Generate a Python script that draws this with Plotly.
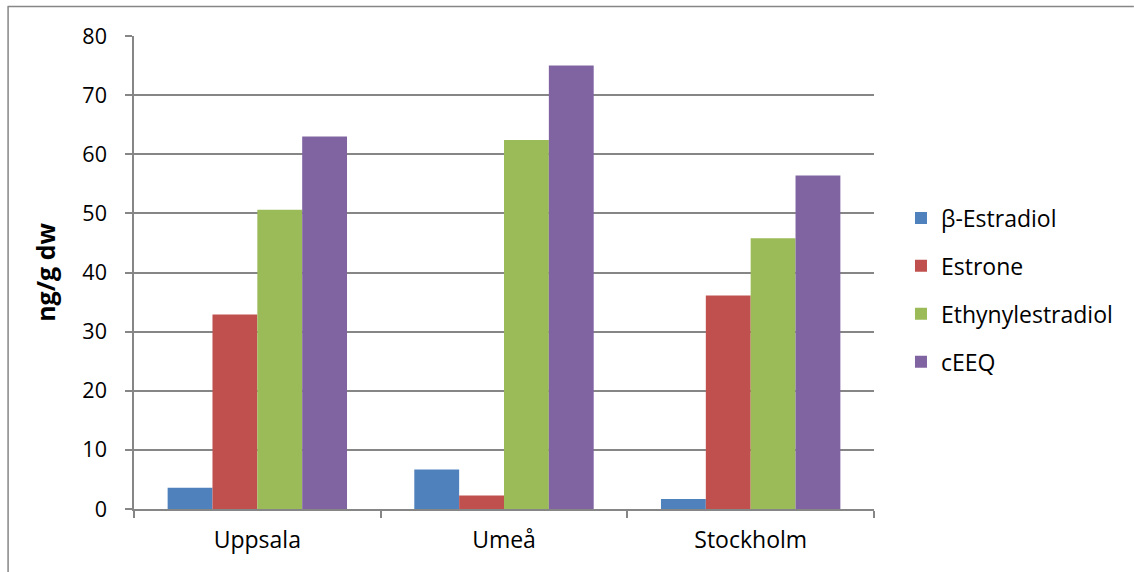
import plotly.graph_objects as go

categories = ["Uppsala", "Umeå", "Stockholm"]
series_names = ["β-Estradiol", "Estrone", "Ethynylestradiol", "cEEQ"]
beta_estradiol = [3.6, 6.7, 1.7]
estrone = [32.9, 2.3, 36.1]
ethynylestradiol = [50.6, 62.4, 45.8]
ceeq = [63.0, 75.0, 56.4]
colors = ["#4F81BD", "#C0504D", "#9BBB59", "#8064A2"]
y_ticks = [0, 10, 20, 30, 40, 50, 60, 70, 80]

FONT = "'Open Sans', sans-serif"
L, R, T, B = 133.5, 874, 36, 509
PW, PH = R - L, B - T

fig = go.Figure()
for i, (name, vals) in enumerate(zip(series_names, [beta_estradiol, estrone, ethynylestradiol, ceeq])):
    fig.add_trace(go.Bar(
        x=categories, y=vals, name=name,
        marker=dict(color=colors[i], line=dict(width=0)),
        legendgroup=f"g{i}",
    ))

fig.update_layout(
    width=1134, height=572,
    margin=dict(l=L, r=1134 - R, t=T, b=572 - B),
    paper_bgcolor="white", plot_bgcolor="white",
    barmode="group", bargap=0.2727, bargroupgap=0,
    font=dict(family=FONT, size=19, color="black"),
    showlegend=True,
    legend=dict(x=(901 - L) / PW, y=(B - 290) / PH, xanchor="left", yanchor="middle",
                traceorder="grouped", tracegroupgap=15,
                font=dict(family=FONT, size=23, color="black"),
                bgcolor="rgba(0,0,0,0)"),
    xaxis=dict(showline=True, linecolor="#868686", linewidth=1.5,
               ticks="outside", ticklen=7, tickcolor="#868686", tickwidth=1.5,
               tickson="boundaries", showgrid=False, ticklabelstandoff=10,
               tickfont=dict(family=FONT, size=23, color="black")),
    yaxis=dict(range=[0, 80], tickvals=y_ticks, showline=True, linecolor="#868686", linewidth=1.5,
               ticks="outside", ticklen=7, tickcolor="#868686", tickwidth=1.5,
               showgrid=True, gridcolor="#868686", gridwidth=1.5, zeroline=False,
               ticklabelstandoff=14,
               tickfont=dict(family=FONT, size=21.5, color="black"),
               title=dict(text="<b>ng/g dw</b>", font=dict(family=FONT, size=25, color="black"), standoff=20)),
    shapes=[
        dict(type="line", xref="paper", yref="paper",
             x0=(7 - L) / PW, x1=(1134 - L) / PW, y0=1 + (T - 6.5) / PH, y1=1 + (T - 6.5) / PH,
             line=dict(color="#868686", width=1.5)),
        dict(type="line", xref="paper", yref="paper",
             x0=(7.5 - L) / PW, x1=(7.5 - L) / PW, y0=1 + (T - 6.5) / PH, y1=-(572 - B) / PH,
             line=dict(color="#868686", width=1.5)),
    ],
)

fig.write_html("out.html")
